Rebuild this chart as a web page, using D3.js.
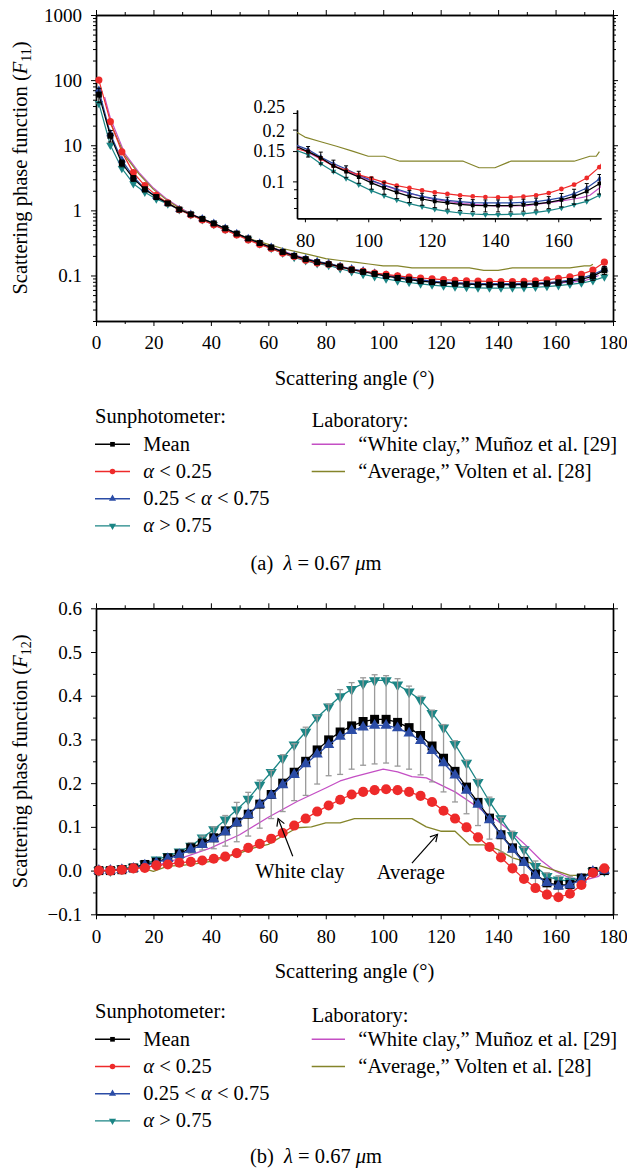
<!DOCTYPE html>
<html>
<head>
<meta charset="utf-8">
<script src="https://cdn.jsdelivr.net/npm/d3@7"></script>
<style>
  body { margin: 0; background: #fff; }
  svg { display: block; font-family: "Liberation Serif", "Times New Roman", serif; }
</style>
</head>
<body>
<div id="chart"></div>
<script>
// Scattering angles of the sunphotometer retrievals (deg)
const angles = [1, 5, 9, 13, 17, 21, 25, 29, 33, 37, 41, 45, 49, 53, 57, 61, 65, 69, 73, 77,
  81, 85, 89, 93, 97, 101, 105, 109, 113, 117, 121, 125, 129, 133, 137, 141, 145, 149, 153, 157,
  161, 165, 169, 173, 177];

// F11 (log scale)
const meanF11 = [60, 14, 5.3, 3.1, 2.1, 1.6, 1.28, 1.03, 0.87, 0.74, 0.63, 0.53, 0.44, 0.37, 0.315, 0.27, 0.23, 0.2, 0.178, 0.16,
  0.149, 0.137, 0.123, 0.114, 0.106, 0.098, 0.0916, 0.0863, 0.0818, 0.079, 0.0765, 0.0749, 0.0735, 0.0725, 0.0722, 0.0722, 0.0722, 0.0729, 0.074, 0.0755,
  0.078, 0.0818, 0.0875, 0.097, 0.12];
const lowF11 = [100, 23, 7.9, 3.8, 2.4, 1.7, 1.3, 1.02, 0.85, 0.71, 0.6, 0.5, 0.42, 0.35, 0.3, 0.26, 0.22, 0.195, 0.172, 0.155,
  0.149, 0.1355, 0.123, 0.116, 0.109, 0.104, 0.0987, 0.0944, 0.0915, 0.0887, 0.0863, 0.0845, 0.083, 0.0818, 0.0811, 0.0808, 0.0808, 0.0815, 0.083, 0.0855,
  0.0903, 0.0957, 0.1046, 0.121, 0.16];
const midF11 = [70, 15, 5.9, 3.3, 2.15, 1.62, 1.28, 1.03, 0.87, 0.74, 0.63, 0.53, 0.44, 0.37, 0.315, 0.27, 0.232, 0.2, 0.18, 0.163,
  0.153, 0.1386, 0.1268, 0.118, 0.109, 0.1013, 0.0952, 0.0903, 0.0856, 0.0818, 0.0793, 0.0775, 0.0762, 0.0752, 0.0749, 0.0749, 0.0749, 0.0755, 0.0762, 0.078,
  0.0804, 0.0848, 0.0915, 0.1032, 0.125];
const highF11 = [44, 10, 4.4, 2.57, 1.9, 1.5, 1.25, 1.02, 0.86, 0.72, 0.61, 0.51, 0.43, 0.36, 0.305, 0.26, 0.22, 0.19, 0.168, 0.152,
  0.143, 0.1268, 0.1143, 0.1041, 0.0957, 0.0883, 0.0826, 0.078, 0.0742, 0.0713, 0.0688, 0.0669, 0.0655, 0.0646, 0.0641, 0.0641, 0.0643, 0.0648, 0.066, 0.0676,
  0.07, 0.0732, 0.0765, 0.083, 0.095];
// relative half width of the error bars on the mean
const meanErrF11 = [0.25, 0.2, 0.12, 0.1, 0.08, 0.07, 0.06, 0.06, 0.06, 0.06, 0.06, 0.06, 0.06, 0.06, 0.06, 0.06, 0.06, 0.06, 0.07, 0.07,
  0.07, 0.08, 0.08, 0.08, 0.08, 0.08, 0.08, 0.08, 0.08, 0.08, 0.08, 0.08, 0.08, 0.08, 0.08, 0.08, 0.08, 0.08, 0.08, 0.08,
  0.09, 0.1, 0.11, 0.13, 0.14];

// F12 (linear)
const meanF12 = [0, 0, 0.002, 0.006, 0.014, 0.019, 0.029, 0.038, 0.052, 0.063, 0.075, 0.091, 0.111, 0.129, 0.152, 0.174, 0.2, 0.225, 0.25, 0.276,
  0.299, 0.317, 0.331, 0.341, 0.346, 0.346, 0.339, 0.327, 0.309, 0.285, 0.257, 0.227, 0.191, 0.156, 0.12, 0.082, 0.052, 0.021, -0.008, -0.028,
  -0.033, -0.032, -0.017, -0.002, 0];
const lowF12 = [0, 0, 0.002, 0.005, 0.006, 0.012, 0.014, 0.018, 0.02, 0.023, 0.027, 0.032, 0.04, 0.052, 0.061, 0.073, 0.086, 0.103, 0.119, 0.135,
  0.149, 0.162, 0.174, 0.18, 0.184, 0.186, 0.184, 0.18, 0.171, 0.157, 0.137, 0.119, 0.099, 0.076, 0.054, 0.03, 0.005, -0.019, -0.04, -0.055,
  -0.061, -0.053, -0.033, -0.005, 0.005];
const midF12 = [0, 0, 0.002, 0.005, 0.012, 0.018, 0.027, 0.036, 0.048, 0.059, 0.072, 0.088, 0.109, 0.128, 0.151, 0.172, 0.196, 0.219, 0.244, 0.266,
  0.288, 0.307, 0.32, 0.328, 0.332, 0.332, 0.326, 0.314, 0.297, 0.274, 0.246, 0.218, 0.183, 0.151, 0.116, 0.081, 0.048, 0.018, -0.011, -0.028,
  -0.036, -0.033, -0.02, -0.002, 0];
const highF12 = [0, 0, 0.005, 0.008, 0.015, 0.025, 0.033, 0.043, 0.056, 0.075, 0.094, 0.116, 0.139, 0.164, 0.196, 0.225, 0.257, 0.288, 0.317, 0.35,
  0.375, 0.398, 0.415, 0.428, 0.435, 0.435, 0.425, 0.409, 0.39, 0.36, 0.327, 0.289, 0.246, 0.202, 0.158, 0.119, 0.081, 0.048, 0.01, -0.013,
  -0.021, -0.024, -0.017, -0.002, 0];
const meanErrF12 = [0.002, 0.002, 0.003, 0.003, 0.004, 0.005, 0.006, 0.008, 0.012, 0.016, 0.025, 0.035, 0.045, 0.05, 0.055, 0.055, 0.065, 0.065, 0.078, 0.078,
  0.082, 0.097, 0.099, 0.1, 0.102, 0.1, 0.1, 0.095, 0.09, 0.082, 0.077, 0.07, 0.061, 0.053, 0.048, 0.04, 0.038, 0.032, 0.03, 0.023,
  0.021, 0.019, 0.008, 0.004, 0.004];

// Laboratory measurements
const clayAngF11 = [3, 5, 10, 15, 20, 25, 30, 40, 50, 60, 70, 80, 90, 100, 110, 120, 130, 140, 150, 160, 165, 168, 170, 173, 175];
const clayF11 = [55, 26, 7.5, 3.8, 2.2, 1.45, 1.05, 0.62, 0.41, 0.28, 0.2, 0.15, 0.121, 0.102, 0.088, 0.079, 0.0742, 0.072, 0.0722, 0.0765, 0.079, 0.081, 0.083, 0.0916, 0.1];
const avgAngF11 = [5, 10, 15, 20, 25, 30, 35, 40, 45, 50, 55, 60, 65, 70, 75, 80, 85, 90, 95, 100, 105, 110, 115, 120, 125, 130, 135, 140, 145, 150, 155, 160, 165, 170, 172, 173];
const avgF11 = [22, 7, 3.6, 2.1, 1.4, 1.02, 0.8, 0.63, 0.51, 0.42, 0.35, 0.3, 0.26, 0.23, 0.205, 0.181, 0.17, 0.16, 0.15, 0.14,
  0.14, 0.131, 0.131, 0.131, 0.131, 0.131, 0.12, 0.12, 0.131, 0.131, 0.131, 0.131, 0.131, 0.14, 0.14, 0.149];
const clayAngF12 = [0, 10, 20, 30, 40, 50, 60, 70, 80, 85, 90, 100, 105, 110, 115, 120, 125, 130, 135, 140, 145, 150, 155, 160, 165, 170, 175, 177];
const clayF12 = [0, 0.004, 0.01, 0.029, 0.052, 0.082, 0.122, 0.158, 0.189, 0.205, 0.215, 0.232, 0.226, 0.215, 0.212, 0.196, 0.18, 0.158, 0.135, 0.113,
  0.086, 0.056, 0.023, -0.002, -0.017, -0.022, -0.013, 0];
const avgAngF12 = [0, 5, 10, 15, 20, 25, 30, 35, 40, 45, 50, 55, 60, 65, 70, 75, 80, 85, 90, 95, 100, 105, 110, 115, 120, 125, 130, 135, 140, 145, 150, 155, 160, 165, 170, 175];
const avgF12 = [0, 0, 0.005, 0.008, -0.002, 0.01, 0.012, 0.016, 0.021, 0.03, 0.04, 0.052, 0.06, 0.079, 0.098, 0.1, 0.109, 0.109, 0.119, 0.119,
  0.119, 0.119, 0.119, 0.1, 0.09, 0.09, 0.059, 0.059, 0.048, 0.029, 0.02, 0.01, 0, -0.011, -0.011, 0.003];

// Axis ticks
const xMajor = [0, 20, 40, 60, 80, 100, 120, 140, 160, 180];
const xMinor = [10, 30, 50, 70, 90, 110, 130, 150, 170];
const yMajorA = [0.1, 1, 10, 100, 1000];
const yMinorA = [0.02, 0.03, 0.04, 0.05, 0.06, 0.07, 0.08, 0.09, 0.2, 0.3, 0.4, 0.5, 0.6, 0.7, 0.8, 0.9,
  2, 3, 4, 5, 6, 7, 8, 9, 20, 30, 40, 50, 60, 70, 80, 90, 200, 300, 400, 500, 600, 700, 800, 900];
const yMajorB = [-0.1, 0, 0.1, 0.2, 0.3, 0.4, 0.5, 0.6];
const yMinorB = [-0.05, 0.05, 0.15, 0.25, 0.35, 0.45, 0.55];
const insetXMajor = [80, 100, 120, 140, 160];
const insetXMinor = [90, 110, 130, 150, 170];
const insetYMajor = [0.1, 0.15, 0.2, 0.25];
const insetYMinor = [0.07, 0.08, 0.09];

const width = 627;
const height = 1172;
const panelShift = 593.3;
const textSize = "20.5px";

const svg = d3.select("#chart")
  .append("svg")
  .attr("width", width)
  .attr("height", height);

const series = [
  { name: "Mean", color: "#000000", symbol: d3.symbolSquare, rot: 0, f11: meanF11, f12: meanF12, s: [36, 81, 14, 22] },
  { name: "α < 0.25", color: "#ee2a2a", symbol: d3.symbolCircle, rot: 0, f11: lowF11, f12: lowF12, s: [40, 80, 18, 24] },
  { name: "0.25 < α < 0.75", color: "#2b4ca6", symbol: d3.symbolTriangle, rot: 0, f11: midF11, f12: midF12, s: [30, 55, 14, 22] },
  { name: "α > 0.75", color: "#1b8585", symbol: d3.symbolTriangle, rot: 180, f11: highF11, f12: highF12, s: [30, 55, 14, 22] }
];
const clayColor = "#c44fc4";
const avgColor = "#84842a";

// scales
const xA = d3.scaleLinear().domain([0, 180]).range([96, 613]);
const yA = d3.scaleLog().domain([0.02, 1000]).range([321, 15]);
const xB = d3.scaleLinear().domain([0, 180]).range([96, 613]);
const yB = d3.scaleLinear().domain([-0.1, 0.6]).range([321 + panelShift, 15 + panelShift]);
const xI = d3.scaleLinear().domain([77.5, 173.5]).range([297, 601]);
const yI = d3.scaleLog().domain([0.061, 0.26]).range([218.3, 110]);

function styleAxis(g, fontSize) {
  g.select(".domain").attr("stroke", "#000").attr("stroke-width", 1.4);
  g.selectAll(".tick line").attr("stroke", "#000").attr("stroke-width", 1);
  g.selectAll(".tick text").attr("fill", "#000")
    .style("font-family", '"Liberation Serif", "Times New Roman", serif')
    .style("font-size", fontSize + "px");
}

// Box frame with ticks on all four sides
function drawFrame(g, x, y, yMajor, yMinor, yFmt) {
  const [x0, x1] = x.range();
  const [yb, yt] = y.range();
  const blank = () => "";

  g.append("g").attr("transform", `translate(0,${yb})`)
    .call(d3.axisBottom(x).tickValues(xMinor).tickSize(3).tickSizeOuter(0).tickFormat(blank))
    .call(styleAxis, 19);
  g.append("g").attr("transform", `translate(0,${yb})`)
    .call(d3.axisBottom(x).tickValues(xMajor).tickSize(5).tickSizeOuter(0).tickPadding(10))
    .call(styleAxis, 19);
  g.append("g").attr("transform", `translate(0,${yt})`)
    .call(d3.axisTop(x).tickValues(xMinor).tickSize(3).tickSizeOuter(0).tickFormat(blank))
    .call(styleAxis, 19);
  g.append("g").attr("transform", `translate(0,${yt})`)
    .call(d3.axisTop(x).tickValues(xMajor).tickSize(5).tickSizeOuter(0).tickFormat(blank))
    .call(styleAxis, 19);

  g.append("g").attr("transform", `translate(${x0},0)`)
    .call(d3.axisLeft(y).tickValues(yMinor).tickSize(3).tickSizeOuter(0).tickFormat(blank))
    .call(styleAxis, 19);
  g.append("g").attr("transform", `translate(${x0},0)`)
    .call(d3.axisLeft(y).tickValues(yMajor).tickSize(5).tickSizeOuter(0).tickPadding(9).tickFormat(yFmt))
    .call(styleAxis, 19);
  g.append("g").attr("transform", `translate(${x1},0)`)
    .call(d3.axisRight(y).tickValues(yMinor).tickSize(3).tickSizeOuter(0).tickFormat(blank))
    .call(styleAxis, 19);
  g.append("g").attr("transform", `translate(${x1},0)`)
    .call(d3.axisRight(y).tickValues(yMajor).tickSize(5).tickSizeOuter(0).tickFormat(blank))
    .call(styleAxis, 19);
}

function drawLine(g, x, y, xs, ys, color, w) {
  const line = d3.line().x((d, i) => x(xs[i])).y(d => y(d));
  g.append("path")
    .datum(ys)
    .attr("fill", "none")
    .attr("stroke", color)
    .attr("stroke-width", w)
    .attr("stroke-linejoin", "round")
    .attr("d", line);
}

function drawMarkers(g, x, y, xs, ys, s, size) {
  g.append("g").selectAll("path")
    .data(ys)
    .join("path")
    .attr("transform", (d, i) => `translate(${x(xs[i])},${y(d)}) rotate(${s.rot})`)
    .attr("d", d3.symbol(s.symbol, size))
    .attr("fill", s.color);
}

function drawErrors(g, x, y, xs, lo, hi, color, cap, w) {
  const eg = g.append("g").attr("stroke", color).attr("stroke-width", w);
  xs.forEach((a, i) => {
    const px = x(a);
    eg.append("line").attr("x1", px).attr("x2", px).attr("y1", y(lo[i])).attr("y2", y(hi[i]));
    eg.append("line").attr("x1", px - cap).attr("x2", px + cap).attr("y1", y(lo[i])).attr("y2", y(lo[i]));
    eg.append("line").attr("x1", px - cap).attr("x2", px + cap).attr("y1", y(hi[i])).attr("y2", y(hi[i]));
  });
}

// text with italic alpha
function addAlphaText(t, label) {
  const parts = label.split("α");
  parts.forEach((p, i) => {
    if (i > 0) t.append("tspan").style("font-style", "italic").text("α");
    if (p) t.append("tspan").text(p);
  });
}

function yTitle(g, cx, cy, sub) {
  const t = g.append("text")
    .attr("transform", `translate(${cx},${cy}) rotate(-90)`)
    .attr("text-anchor", "middle")
    .style("font-size", textSize);
  t.append("tspan").text("Scattering phase function (");
  t.append("tspan").style("font-style", "italic").text("F");
  t.append("tspan").attr("dy", 4).style("font-size", "14px").text(sub);
  t.append("tspan").attr("dy", -4).text(")");
}

function xTitle(g, y) {
  g.append("text")
    .attr("x", 354.5).attr("y", y)
    .attr("text-anchor", "middle")
    .style("font-size", textSize)
    .text("Scattering angle (°)");
}

function caption(g, y, letter) {
  const t = g.append("text")
    .attr("x", 316).attr("y", y)
    .attr("text-anchor", "middle")
    .style("font-size", textSize);
  t.append("tspan").text(`(${letter})\u2002`);
  t.append("tspan").style("font-style", "italic").text("λ");
  t.append("tspan").text(" = 0.67 ");
  t.append("tspan").style("font-style", "italic").text("μ");
  t.append("tspan").text("m");
}

function drawLegend(g, base) {
  g.append("text").attr("x", 95).attr("y", base).style("font-size", textSize).text("Sunphotometer:");
  series.forEach((s, i) => {
    const ly = base + 21.3 + i * 27.2;
    g.append("line").attr("x1", 95).attr("x2", 130).attr("y1", ly).attr("y2", ly)
      .attr("stroke", s.color).attr("stroke-width", 1.4);
    g.append("path")
      .attr("transform", `translate(112.5,${ly}) rotate(${s.rot})`)
      .attr("d", d3.symbol(s.symbol, s.s[3]))
      .attr("fill", s.color);
    const t = g.append("text").attr("x", 143.3).attr("y", ly + 6.5).style("font-size", textSize);
    addAlphaText(t, s.name);
  });
  g.append("text").attr("x", 311.7).attr("y", base + 4).style("font-size", textSize).text("Laboratory:");
  const lab = [
    { name: "“White clay,” Muñoz et al. [29]", color: clayColor },
    { name: "“Average,” Volten et al. [28]", color: avgColor }
  ];
  lab.forEach((l, i) => {
    const ly = base + 21.3 + i * 27.2;
    g.append("line").attr("x1", 311.7).attr("x2", 345).attr("y1", ly).attr("y2", ly)
      .attr("stroke", l.color).attr("stroke-width", 1.4);
    g.append("text").attr("x", 358.3).attr("y", ly + 6.5).style("font-size", textSize).text(l.name);
  });
}

// ---------- Panel (a): F11 ----------
const ga = svg.append("g");
drawFrame(ga, xA, yA, yMajorA, yMinorA, d => d3.format("~g")(d));

drawLine(ga, xA, yA, clayAngF11, clayF11, clayColor, 1.2);
drawLine(ga, xA, yA, avgAngF11, avgF11, avgColor, 1.2);
series.slice().reverse().forEach(s => {
  drawLine(ga, xA, yA, angles, s.f11, s.color, 1.2);
  drawMarkers(ga, xA, yA, angles, s.f11, s, s.s[0]);
});
drawErrors(ga, xA, yA, angles,
  meanF11.map((v, i) => v * (1 - meanErrF11[i])),
  meanF11.map((v, i) => v * (1 + meanErrF11[i])), "#000", 2.5, 1);

// inset
const gi = ga.append("g");
svg.append("defs").append("clipPath").attr("id", "insetClip")
  .append("rect").attr("x", 297).attr("y", 110).attr("width", 304).attr("height", 108.3);

gi.append("g").attr("transform", "translate(0,218.3)")
  .call(d3.axisBottom(xI).tickValues(insetXMinor).tickSize(3).tickSizeOuter(0).tickFormat(() => ""))
  .call(styleAxis, 19);
gi.append("g").attr("transform", "translate(0,218.3)")
  .call(d3.axisBottom(xI).tickValues(insetXMajor).tickSize(4).tickSizeOuter(0).tickPadding(11))
  .call(styleAxis, 19);
gi.append("g").attr("transform", "translate(297,0)")
  .call(d3.axisLeft(yI).tickValues(insetYMinor).tickSize(3).tickSizeOuter(0).tickFormat(() => ""))
  .call(styleAxis, 19);
const insetY = gi.append("g").attr("transform", "translate(297,0)")
  .call(d3.axisLeft(yI).tickValues(insetYMajor).tickSize(4).tickSizeOuter(0).tickPadding(8).tickFormat(d3.format("~g")))
  .call(styleAxis, 18);
// the two top labels sit very close in the original; nudge them apart a little
insetY.selectAll(".tick text")
  .attr("dy", d => d === 0.25 ? "-0.02em" : d === 0.2 ? "0.4em" : "0.32em");

const gic = gi.append("g").attr("clip-path", "url(#insetClip)");
drawLine(gic, xI, yI, clayAngF11, clayF11, clayColor, 1.2);
drawLine(gic, xI, yI, avgAngF11, avgF11, avgColor, 1.2);
const inIdx = angles.map((a, i) => i).filter(i => angles[i] >= 79 && angles[i] <= 174);
const inAng = inIdx.map(i => angles[i]);
series.slice().reverse().forEach(s => {
  drawLine(gic, xI, yI, angles, s.f11, s.color, 1.2);
  drawMarkers(gic, xI, yI, inAng, inIdx.map(i => s.f11[i]), s, s.s[2]);
});
drawErrors(gic, xI, yI, inAng,
  inIdx.map(i => meanF11[i] * (1 - meanErrF11[i])),
  inIdx.map(i => meanF11[i] * (1 + meanErrF11[i])), "#000", 2, 1);

yTitle(ga, 27, 168, "11");
xTitle(ga, 385);
drawLegend(ga, 423);
caption(ga, 570, "a");

// ---------- Panel (b): F12 ----------
const gb = svg.append("g");
drawFrame(gb, xB, yB, yMajorB, yMinorB, d3.format(".1f"));

drawLine(gb, xB, yB, clayAngF12, clayF12, clayColor, 1.3);
drawLine(gb, xB, yB, avgAngF12, avgF12, avgColor, 1.3);
const [sMean, sLow, sMid, sHigh] = series;
drawLine(gb, xB, yB, angles, sHigh.f12, sHigh.color, 1.3);
drawMarkers(gb, xB, yB, angles, sHigh.f12, sHigh, sHigh.s[1]);
drawErrors(gb, xB, yB, angles,
  meanF12.map((v, i) => v - meanErrF12[i]),
  meanF12.map((v, i) => v + meanErrF12[i]), "#9a9a9a", 3, 1.3);
[sMean, sMid, sLow].forEach(s => {
  drawLine(gb, xB, yB, angles, s.f12, s.color, 1.3);
  drawMarkers(gb, xB, yB, angles, s.f12, s, s.s[1]);
});

// annotations
const notes = [
  { text: "White clay", tx: 71, ty: -0.018, from: [68.5, 0.033], to: [63.4, 0.119] },
  { text: "Average", tx: 109.6, ty: -0.02, from: [110, 0.017], to: [118.9, 0.083] }
];
svg.append("defs").append("marker")
  .attr("id", "arrowHead")
  .attr("viewBox", "-8 -5 10 10")
  .attr("markerWidth", 10).attr("markerHeight", 10)
  .attr("markerUnits", "userSpaceOnUse")
  .attr("orient", "auto")
  .append("path").attr("d", "M-7,-4L0,0L-7,4")
  .attr("fill", "none").attr("stroke", "#000").attr("stroke-width", 1.2);
notes.forEach(n => {
  gb.append("line")
    .attr("x1", xB(n.from[0])).attr("y1", yB(n.from[1]))
    .attr("x2", xB(n.to[0])).attr("y2", yB(n.to[1]))
    .attr("stroke", "#000").attr("stroke-width", 1.2)
    .attr("marker-end", "url(#arrowHead)");
  gb.append("text")
    .attr("x", xB(n.tx)).attr("y", yB(n.ty))
    .attr("text-anchor", "middle")
    .style("font-size", textSize)
    .text(n.text);
});

yTitle(gb, 27, 168 + panelShift, "12");
xTitle(gb, 385 + panelShift);
drawLegend(gb, 423 + 595);
caption(gb, 570 + panelShift, "b");
</script>
</body>
</html>
